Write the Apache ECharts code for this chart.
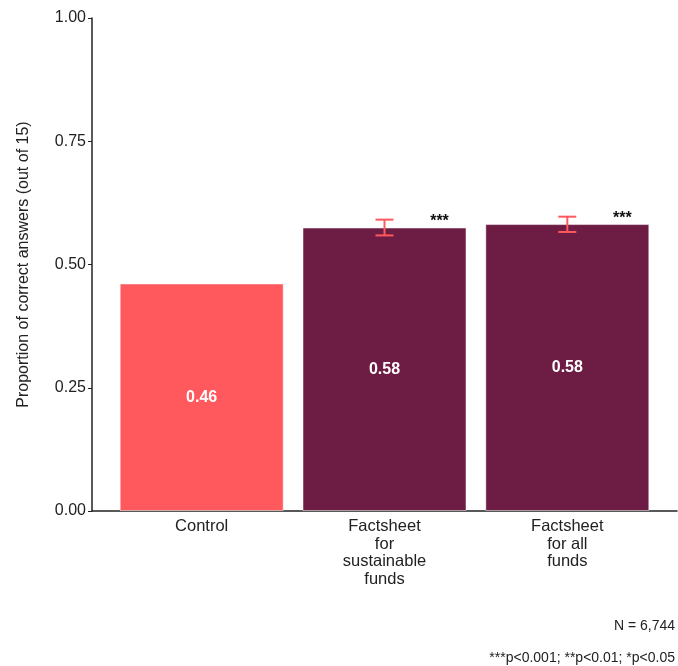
<!DOCTYPE html>
<html><head><meta charset="utf-8">
<script src="https://cdn.jsdelivr.net/npm/echarts@6/dist/echarts.min.js"></script>
<style>html,body{margin:0;padding:0;background:#fff}#c{width:678px;height:666px}</style>
</head><body><div id="c"></div>
<script>
var categories = ['Control', 'Factsheet\nfor\nsustainable\nfunds', 'Factsheet\nfor all\nfunds'];
var values = [0.4615, 0.575, 0.582];
var barLabels = ['0.46', '0.58', '0.58'];
var ciLow = [null, 0.559, 0.566];
var ciHigh = [null, 0.591, 0.597];
var stars = ['', '***', '***'];
var barColors = ['#FF585D', '#6D1C44', '#6D1C44'];

var font = 'Liberation Sans, Arial, sans-serif';
var chart = echarts.init(document.getElementById('c'));

var barData = values.map(function (v, i) {
  return { value: [i + 1, v], itemStyle: { color: barColors[i] }, label: { formatter: barLabels[i] } };
});
var errData = [];
values.forEach(function (v, i) { if (ciLow[i] != null) errData.push([i + 1, ciLow[i], ciHigh[i]]); });
var starData = [];
values.forEach(function (v, i) { if (stars[i]) starData.push([i + 1, ciHigh[i], stars[i]]); });

chart.setOption({
  animation: false,
  grid: { left: 92, right: 1, top: 18, bottom: 155, containLabel: false, outerBoundsMode: 'none' },
  xAxis: {
    type: 'value', min: 0.4, max: 3.6,
    splitLine: { show: false },
    axisLine: { show: true, onZero: false, lineStyle: { color: '#222', width: 1.5 } },
    axisTick: { show: false },
    axisLabel: {
      customValues: [1, 2, 3],
      formatter: function (v) { return categories[Math.round(v) - 1]; },
      color: '#222', fontFamily: font, fontSize: 16.5, lineHeight: 17.5, margin: 7, align: 'center'
    }
  },
  yAxis: {
    type: 'value', min: 0, max: 1, interval: 0.25,
    name: 'Proportion of correct answers (out of 15)',
    nameLocation: 'middle', nameGap: 60, nameRotate: 90,
    nameTextStyle: { color: '#222', fontFamily: font, fontSize: 16 },
    splitLine: { show: false },
    axisLine: { show: true, lineStyle: { color: '#222', width: 1.5 } },
    axisTick: { show: true, length: 4, lineStyle: { color: '#222' } },
    axisLabel: { color: '#222', fontFamily: font, fontSize: 16, margin: 6,
      formatter: function (v) { return v.toFixed(2); } }
  },
  series: [
    {
      type: 'bar', data: barData, barWidth: 164, z: 2,
      itemStyle: { borderColor: 'rgba(255,255,255,0.5)', borderWidth: 1 },
      label: { show: true, position: 'inside', color: '#fff', fontWeight: 'bold', fontFamily: font, fontSize: 16 }
    },
    {
      type: 'custom', data: errData, z: 5,
      renderItem: function (params, api) {
        var x = api.value(0);
        var lo = api.coord([x, api.value(1)]);
        var hi = api.coord([x, api.value(2)]);
        var hw = 9;
        var st = { stroke: '#FF585D', lineWidth: 2 };
        return { type: 'group', children: [
          { type: 'line', shape: { x1: lo[0], y1: lo[1], x2: hi[0], y2: hi[1] }, style: st },
          { type: 'line', shape: { x1: lo[0] - hw, y1: lo[1], x2: lo[0] + hw, y2: lo[1] }, style: st },
          { type: 'line', shape: { x1: hi[0] - hw, y1: hi[1], x2: hi[0] + hw, y2: hi[1] }, style: st }
        ] };
      }
    },
    {
      type: 'custom', data: starData, z: 5,
      renderItem: function (params, api) {
        var p = api.coord([api.value(0), api.value(1)]);
        return { type: 'text', x: p[0] + 55, y: p[1] + 2,
          style: { text: starData[params.dataIndex][2], fill: '#111', fontFamily: font, fontSize: 16, fontWeight: 'bold',
            align: 'center', verticalAlign: 'middle' } };
      }
    }
  ],
  graphic: [
    { type: 'text', right: 3, top: 619, style: { text: 'N = 6,744', fill: '#222', fontFamily: font, fontSize: 14 } },
    { type: 'text', right: 3, top: 651, style: { text: '***p<0.001; **p<0.01; *p<0.05', fill: '#222', fontFamily: font, fontSize: 14 } }
  ]
});
</script></body></html>
